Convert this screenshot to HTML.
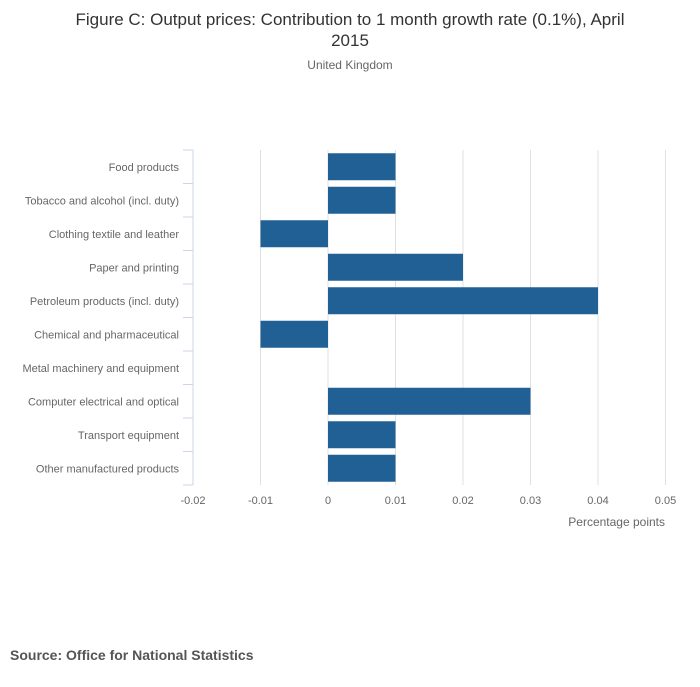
<!DOCTYPE html>
<html><head><meta charset="utf-8"><style>
body{margin:0;background:#fff;font-family:"Liberation Sans",sans-serif}
svg text{font-family:"Liberation Sans",sans-serif}
</style></head><body>
<svg width="700" height="682">
<text x="350" y="25" text-anchor="middle" font-size="17" fill="#333">Figure C: Output prices: Contribution to 1 month growth rate (0.1%), April</text>
<text x="350" y="46" text-anchor="middle" font-size="17" fill="#333">2015</text>
<text x="350" y="69" text-anchor="middle" font-size="12" fill="#666">United Kingdom</text>
<g id="grid"></g><g id="bars"></g><g id="yaxis"></g><g id="xlabels"></g>
<text x="665" y="526" text-anchor="end" font-size="12" fill="#666">Percentage points</text>
<text x="10" y="660" font-size="14" font-weight="bold" fill="#555">Source: Office for National Statistics</text>
</svg>
<script>
const categories=["Food products","Tobacco and alcohol (incl. duty)","Clothing textile and leather","Paper and printing","Petroleum products (incl. duty)","Chemical and pharmaceutical","Metal machinery and equipment","Computer electrical and optical","Transport equipment","Other manufactured products"];
const values=[0.01,0.01,-0.01,0.02,0.04,-0.01,0,0.03,0.01,0.01];
const ticks=[-0.02,-0.01,0,0.01,0.02,0.03,0.04,0.05];
const tickLabels=["-0.02","-0.01","0","0.01","0.02","0.03","0.04","0.05"];
const NS="http://www.w3.org/2000/svg";
const x0=193,x1=665.5,yTop=150,yBottom=485;
const xs=v=>x0+(v-ticks[0])/(ticks[ticks.length-1]-ticks[0])*(x1-x0);
const band=(yBottom-yTop)/categories.length;
function mk(t,a,p){const e=document.createElementNS(NS,t);for(const k in a)e.setAttribute(k,a[k]);p.appendChild(e);return e;}
const g=document.getElementById('grid'),b=document.getElementById('bars'),ya=document.getElementById('yaxis'),xl=document.getElementById('xlabels');
ticks.forEach((t,i)=>{
 if(i>0){const l=mk('line',{x1:xs(t),x2:xs(t),y1:yTop,y2:yBottom,stroke:'#e0e0e0','stroke-width':1},g);
 
 }
 const tx=mk('text',{x:xs(t),y:504,'text-anchor':'middle','font-size':11,fill:'#666'},xl);tx.textContent=tickLabels[i];
 
 
});
const ax=mk('line',{x1:x0,x2:x0,y1:yTop,y2:yBottom,stroke:'#ccd6eb'},ya);


for(let i=0;i<=categories.length;i++){const y=yTop+i*band;const tk=mk('line',{x1:x0-10,x2:x0,y1:y,y2:y,stroke:'#ccd6eb'},ya);
 
 }
categories.forEach((c,i)=>{
 const yc=yTop+(i+0.5)*band;
 const t=mk('text',{x:179,y:yc+4,'text-anchor':'end','font-size':11,fill:'#666'},ya);t.textContent=c;
 
 
 const v=values[i];if(v===0)return;
 const r=mk('rect',{x:Math.min(xs(0),xs(v)),y:yc-13.5,width:Math.abs(xs(v)-xs(0)),height:27,fill:'#206095'},b);
 
 
});
</script>
</body></html>
